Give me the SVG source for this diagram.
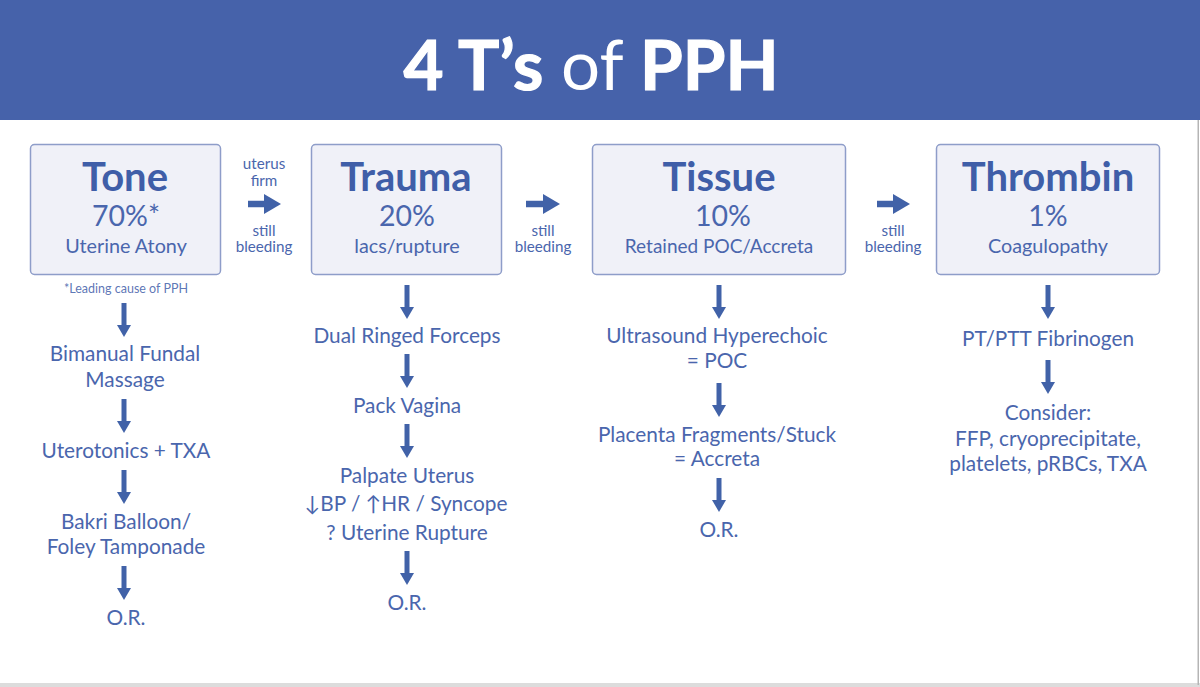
<svg xmlns="http://www.w3.org/2000/svg" width="1200" height="687" viewBox="0 0 1200 687">
<style>
text{font-family:Lato,"Open Sans",sans-serif;fill:#4a66ad;text-anchor:middle}
.box{fill:#f0f1f8;stroke:#8e9dc9;stroke-width:1.500}
.h{font-size:40px;font-weight:700;fill:#3f5ea8}
.p{font-size:28.500px}
.s{font-size:19.800px}
.b{font-size:20.800px}
.m{font-size:15.200px}
.ah{fill:none;stroke:#4162a8;stroke-width:6.500}
.av{fill:none;stroke:#4162a8;stroke-width:5}
.tb{font-weight:700;stroke:#fff;stroke-width:1.200}
</style>
<defs>
<marker id="hh" markerUnits="userSpaceOnUse" markerWidth="18" markerHeight="20" refX="0" refY="10" orient="auto"><path d="M0 0L17 10L0 20Z" fill="#4162a8"/></marker>
<marker id="hv" markerUnits="userSpaceOnUse" markerWidth="12" markerHeight="14" refX="0" refY="7" orient="auto"><path d="M0 0L12 7L0 14Z" fill="#4162a8"/></marker>
</defs>
<rect width="1200" height="687" fill="#fff"/>
<g id="banner"><rect width="1200" height="120" fill="#4662aa"/>
<text x="591" y="90" font-size="69" style="fill:#fff"><tspan class="tb">4 T’s</tspan> of <tspan class="tb">PPH</tspan></text></g>
<g id="tone"><rect class="box" x="30.500" y="144.500" width="190" height="130" rx="4"/><text class="h" x="125" y="191">Tone</text><text class="p" x="126" y="226">70%*</text><text class="s" x="126" y="253">Uterine Atony</text></g>
<g id="trauma"><rect class="box" x="311.500" y="144.500" width="190" height="130" rx="4"/><text class="h" x="406" y="191">Trauma</text><text class="p" x="407" y="226">20%</text><text class="s" x="407" y="253">lacs/rupture</text></g>
<g id="tissue"><rect class="box" x="592.500" y="144.500" width="253" height="130" rx="4"/><text class="h" x="719" y="191">Tissue</text><text class="p" x="723" y="226">10%</text><text class="s" x="719" y="253" style="font-size:19px">Retained POC/Accreta</text></g>
<g id="thrombin"><rect class="box" x="936.500" y="144.500" width="223" height="130" rx="4"/><text class="h" x="1048" y="191">Thrombin</text><text class="p" x="1048" y="226">1%</text><text class="s" x="1048" y="253">Coagulopathy</text></g>
<g id="connectors">
<path class="ah" marker-end="url(#hh)" d="M248 204H264"/><path class="ah" marker-end="url(#hh)" d="M526 204H543"/><path class="ah" marker-end="url(#hh)" d="M877 204H893"/>
<path class="av" marker-end="url(#hv)" d="M124 303V325"/><path class="av" marker-end="url(#hv)" d="M124 399V421"/><path class="av" marker-end="url(#hv)" d="M124 470V492"/><path class="av" marker-end="url(#hv)" d="M124 566V588"/>
<path class="av" marker-end="url(#hv)" d="M407 285V307"/><path class="av" marker-end="url(#hv)" d="M407 354V376"/><path class="av" marker-end="url(#hv)" d="M407 424V446"/><path class="av" marker-end="url(#hv)" d="M407 551V573"/>
<path class="av" marker-end="url(#hv)" d="M719 285V307"/><path class="av" marker-end="url(#hv)" d="M719 383V405"/><path class="av" marker-end="url(#hv)" d="M719 478V500"/>
<path class="av" marker-end="url(#hv)" d="M1048 285V307"/><path class="av" marker-end="url(#hv)" d="M1048 360V382"/>
</g>
<g id="labels">
<text class="m" x="264" y="169">uterus</text><text class="m" x="264" y="186">firm</text><text class="m" x="264" y="236">still</text><text class="m" x="264" y="252">bleeding</text>
<text class="m" x="543" y="236">still</text><text class="m" x="543" y="252">bleeding</text>
<text class="m" x="893" y="236">still</text><text class="m" x="893" y="252">bleeding</text>
<text x="126" y="293" font-size="12.500" fill-opacity="0.900">*Leading cause of PPH</text>
</g>
<g id="tone-steps"><text class="b" x="125" y="361">Bimanual Fundal</text><text class="b" x="125" y="387">Massage</text><text class="b" x="126" y="458">Uterotonics + TXA</text><text class="b" x="126" y="529">Bakri Balloon/</text><text class="b" x="126" y="554">Foley Tamponade</text><text class="b" x="126" y="625">O.R.</text></g>
<g id="trauma-steps"><text class="b" x="407" y="343">Dual Ringed Forceps</text><text class="b" x="407" y="413">Pack Vagina</text><text class="b" x="407" y="483">Palpate Uterus</text><text class="b" x="406" y="511">↓BP / ↑HR / Syncope</text><text class="b" x="407" y="540">? Uterine Rupture</text><text class="b" x="407" y="610">O.R.</text></g>
<g id="tissue-steps"><text class="b" x="717" y="343">Ultrasound Hyperechoic</text><text class="b" x="717" y="368">= POC</text><text class="b" x="717" y="442">Placenta Fragments/Stuck</text><text class="b" x="717" y="466">= Accreta</text><text class="b" x="719" y="537">O.R.</text></g>
<g id="thrombin-steps"><text class="b" x="1048" y="346">PT/PTT Fibrinogen</text><text class="b" x="1048" y="420">Consider:</text><text class="b" x="1048" y="446">FFP, cryoprecipitate,</text><text class="b" x="1048" y="471">platelets, pRBCs, TXA</text></g>
<g id="edges"><rect y="683" width="1200" height="4" fill="#dcdcdc"/><rect x="1197.500" y="120" width="1.500" height="565" fill="#b5b5b5"/></g>
</svg>
